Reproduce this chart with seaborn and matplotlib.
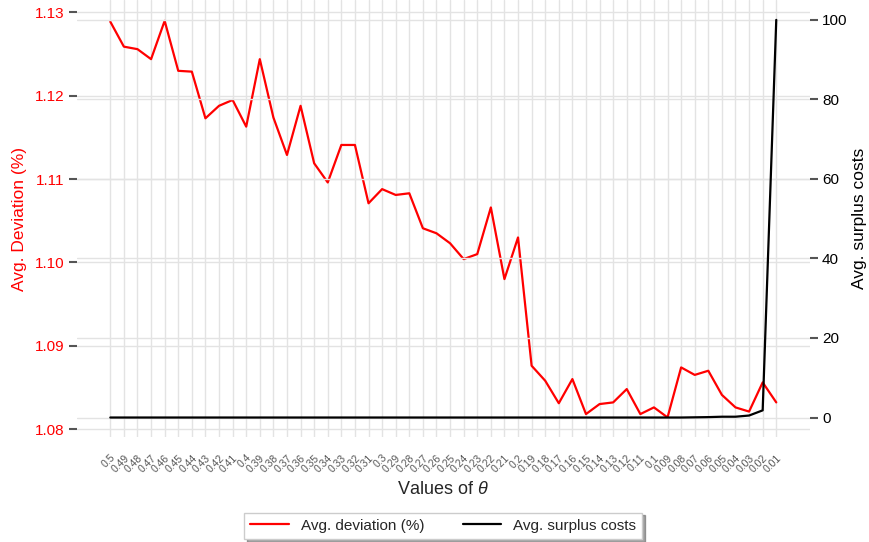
import matplotlib
matplotlib.use("Agg")
import matplotlib.pyplot as plt
import matplotlib.transforms as mtransforms
import seaborn as sns
import pandas as pd

theta = ["0.5", "0.49", "0.48", "0.47", "0.46", "0.45", "0.44", "0.43", "0.42", "0.41",
         "0.4", "0.39", "0.38", "0.37", "0.36", "0.35", "0.34", "0.33", "0.32", "0.31",
         "0.3", "0.29", "0.28", "0.27", "0.26", "0.25", "0.24", "0.23", "0.22", "0.21",
         "0.2", "0.19", "0.18", "0.17", "0.16", "0.15", "0.14", "0.13", "0.12", "0.11",
         "0.1", "0.09", "0.08", "0.07", "0.06", "0.05", "0.04", "0.03", "0.02", "0.01"]

deviation = [1.1289, 1.1259, 1.1256, 1.1244, 1.1290, 1.1230, 1.1229, 1.1173, 1.1188, 1.1195,
             1.1163, 1.1244, 1.1174, 1.1129, 1.1188, 1.1119, 1.1096, 1.1141, 1.1141, 1.1071,
             1.1088, 1.1081, 1.1083, 1.1041, 1.1035, 1.1023, 1.1004, 1.1010, 1.1066, 1.0980,
             1.1030, 1.0876, 1.0858, 1.0831, 1.0860, 1.0818, 1.0830, 1.0832, 1.0848, 1.0818,
             1.0826, 1.0814, 1.0874, 1.0865, 1.0870, 1.0841, 1.0826, 1.0821, 1.0856, 1.0832]

surplus = [0.0, 0.0, 0.0, 0.0, 0.0, 0.0, 0.0, 0.0, 0.0, 0.0,
           0.0, 0.0, 0.0, 0.0, 0.0, 0.0, 0.0, 0.0, 0.0, 0.0,
           0.0, 0.0, 0.0, 0.0, 0.0, 0.0, 0.0, 0.0, 0.0, 0.0,
           0.0, 0.0, 0.0, 0.0, 0.0, 0.0, 0.0, 0.0, 0.0, 0.0,
           0.0, 0.0, 0.0, 0.05, 0.1, 0.2, 0.2, 0.5, 1.8, 100.0]

df = pd.DataFrame({"theta": theta, "deviation": deviation, "surplus": surplus})

sns.set_style("whitegrid", {"grid.color": "#e3e3e3", "axes.edgecolor": "white"})
plt.rcParams["font.family"] = ["Liberation Sans", "DejaVu Sans"]
plt.rcParams["mathtext.fontset"] = "custom"
plt.rcParams["mathtext.it"] = "Liberation Sans:italic"
plt.rcParams["mathtext.rm"] = "Liberation Sans"

fig = plt.figure(figsize=(8.69, 5.42), dpi=100)
ax = fig.add_axes([0.0886, 0.193, 0.843, 0.807])
ax2 = ax.twinx()

sns.lineplot(data=df, x="theta", y="deviation", ax=ax, color="#ff0000", lw=1.6,
             sort=False, label="Avg. deviation (%)", legend=False)
sns.lineplot(data=df, x="theta", y="surplus", ax=ax2, color="black", lw=1.6,
             sort=False, label="Avg. surplus costs", legend=False)

ax.set_xlim(-2.45, 51.45)
ax.set_ylim(1.079, 1.1315)
ax2.set_ylim(-5, 105)
ax.set_yticks([1.08, 1.09, 1.10, 1.11, 1.12, 1.13])
ax.set_yticklabels(["1.08", "1.09", "1.10", "1.11", "1.12", "1.13"])
ax2.set_yticks([0, 20, 40, 60, 80, 100])

for a in (ax, ax2):
    for s in a.spines.values():
        s.set_visible(False)
    a.grid(True, color="#e3e3e3", lw=1.0)

ax.tick_params(axis="y", colors="#ff0000", labelsize=11, length=6, width=1.5, left=True, pad=3)
ax.tick_params(axis="y", color="#555555")
ax2.tick_params(axis="y", labelcolor="black", labelsize=11, length=6, width=1.5,
                right=True, color="#555555", pad=3)
ax.tick_params(axis="x", labelsize=7.5, labelcolor="#555555", length=0, pad=11)
shift = mtransforms.ScaledTranslation(7 / 100, 0, fig.dpi_scale_trans)
for lbl in ax.get_xticklabels():
    lbl.set_rotation(45)
    lbl.set_ha("right")
    lbl.set_va("top")
    lbl.set_transform(lbl.get_transform() + shift)

ax.set_xlabel(r"Values of $\theta$", fontsize=13, labelpad=5)
ax.set_ylabel("Avg. Deviation (%)", fontsize=12.5, color="#ff0000", labelpad=6)
ax2.set_ylabel("Avg. surplus costs", fontsize=12.5, color="black", labelpad=3)

h1, l1 = ax.get_legend_handles_labels()
h2, l2 = ax2.get_legend_handles_labels()
leg = fig.legend(h1 + h2, l1 + l2, loc="center", bbox_to_anchor=(0.51, 0.03), ncol=2,
                 frameon=True, fancybox=False, shadow=True, fontsize=11,
                 columnspacing=2.5, handlelength=2.5, borderpad=0.4)
leg.get_frame().set_edgecolor("#cccccc")

fig.savefig("out.png", dpi=100)
